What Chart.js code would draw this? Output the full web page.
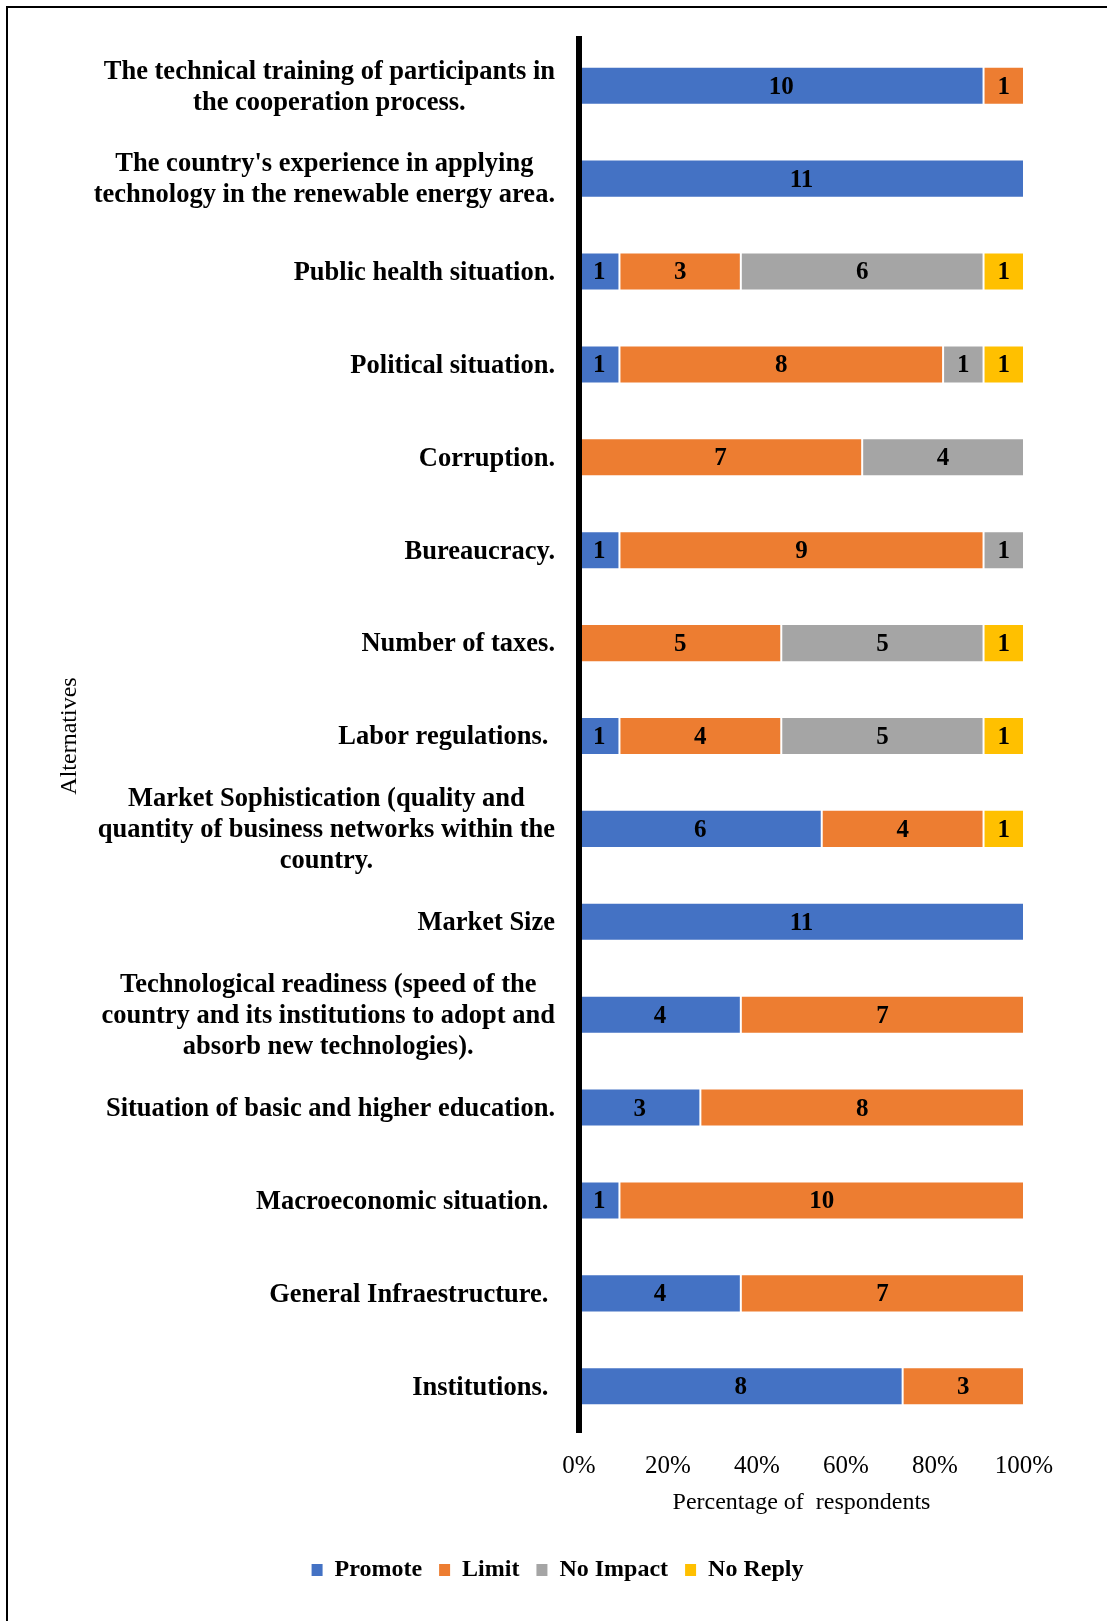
<!DOCTYPE html>
<html><head><meta charset="utf-8">
<script src="https://cdn.jsdelivr.net/npm/chart.js@4.4.0/dist/chart.umd.min.js"></script>
<style>
html,body{margin:0;padding:0;background:#fff;}
#wrap{position:relative;width:1107px;height:1621px;overflow:hidden;background:#fff;}
#frame{position:absolute;left:6px;top:6px;width:1200px;height:1700px;border-left:2px solid #000;border-top:2px solid #000;pointer-events:none;}
canvas{position:absolute;left:0;top:0;}
</style></head><body>
<div id="wrap"><canvas id="c" width="1107" height="1621"></canvas><div id="frame"></div></div>
<script>
const categories = [
  ["The technical training of participants in", "the cooperation process."],
  ["The country's experience in applying", "technology in the renewable energy area."],
  ["Public health situation."],
  ["Political situation."],
  ["Corruption."],
  ["Bureaucracy."],
  ["Number of taxes."],
  ["Labor regulations. "],
  ["Market Sophistication (quality and", "quantity of business networks within the", "country."],
  ["Market Size"],
  ["Technological readiness (speed of the", "country and its institutions to adopt and", "absorb new technologies)."],
  ["Situation of basic and higher education."],
  ["Macroeconomic situation. "],
  ["General Infraestructure. "],
  ["Institutions. "]
];
const seriesNames = ["Promote", "Limit", "No Impact", "No Reply"];
const promote  = [10, 11, 1, 1, 0, 1, 0, 1, 6, 11, 4, 3, 1, 4, 8];
const limit    = [1, 0, 3, 8, 7, 9, 5, 4, 4, 0, 7, 8, 10, 7, 3];
const noImpact = [0, 0, 6, 1, 4, 1, 5, 5, 0, 0, 0, 0, 0, 0, 0];
const noReply  = [0, 0, 1, 1, 0, 0, 1, 1, 1, 0, 0, 0, 0, 0, 0];
const xTicks = [0, 20, 40, 60, 80, 100];
const colors = ["#4472C4", "#ED7D31", "#A5A5A5", "#FFC000"];

const FONT = "'Liberation Serif', 'Times New Roman', serif";
const counts = [promote, limit, noImpact, noReply];
const totals = categories.map((_, i) => counts.reduce((s, a) => s + a[i], 0));

const datasets = counts.map((arr, k) => ({
  label: seriesNames[k],
  data: arr.map((v, i) => v / totals[i] * 100),
  counts: arr,
  backgroundColor: colors[k],
  borderColor: 'rgba(255,255,255,0.6)',
  borderWidth: 1,
  borderSkipped: false,
  barPercentage: 0.41,
  categoryPercentage: 1.0
}));

const labelPlugin = {
  id: 'customLabels',
  afterDatasetsDraw(chart) {
    const ctx = chart.ctx;
    ctx.save();
    // data labels
    ctx.font = "bold 25px " + FONT;
    ctx.fillStyle = '#000';
    ctx.textAlign = 'center';
    ctx.textBaseline = 'middle';
    chart.data.datasets.forEach((ds, di) => {
      const meta = chart.getDatasetMeta(di);
      meta.data.forEach((bar, i) => {
        const c = ds.counts[i];
        if (!c) return;
        const x = (bar.x + bar.base) / 2;
        ctx.fillText(String(c), x, bar.y + 1.5);
      });
    });
    // category labels
    const y = chart.scales.y;
    ctx.font = "bold 26.5px " + FONT;
    const rightEdge = 555;
    const lh = 31;
    categories.forEach((lines, i) => {
      const cy = y.getPixelForValue(i);
      const w = Math.max(...lines.map(l => ctx.measureText(l).width));
      const cx = rightEdge - w / 2;
      lines.forEach((l, j) => {
        ctx.fillText(l, cx, cy + (j - (lines.length - 1) / 2) * lh + 1.5);
      });
    });
    // y axis title
    ctx.font = "24px " + FONT;
    ctx.translate(70, (chart.chartArea.top + chart.chartArea.bottom) / 2);
    ctx.rotate(-Math.PI / 2);
    ctx.fillText("Alternatives", 0, 0);
    ctx.restore();
  }
};

new Chart(document.getElementById('c'), {
  type: 'bar',
  data: { labels: categories.map(l => l.join(' ')), datasets },
  options: {
    responsive: false,
    animation: false,
    devicePixelRatio: 1,
    indexAxis: 'y',
    layout: { padding: { top: 39.3, left: 91, right: 83, bottom: 29 } },
    plugins: {
      tooltip: { enabled: false },
      legend: {
        position: 'bottom',
        labels: {
          color: '#000',
          font: { family: FONT, size: 24, weight: 'bold' },
          boxWidth: 11,
          boxHeight: 12,
          padding: 17,
          generateLabels(chart) {
            return Chart.defaults.plugins.legend.labels.generateLabels(chart).map(it => Object.assign(it, { lineWidth: 0, strokeStyle: 'rgba(0,0,0,0)' }));
          }
        }
      }
    },
    scales: {
      x: {
        stacked: true,
        min: 0, max: 100,
        afterBuildTicks(scale) { scale.ticks = xTicks.map(v => ({ value: v })); },
        grid: { display: false, drawTicks: false },
        border: { display: false },
        ticks: {
          padding: 19,
          color: '#000',
          font: { family: FONT, size: 25 },
          callback: v => v + '%'
        },
        title: {
          display: true,
          text: 'Percentage of  respondents',
          color: '#000',
          font: { family: FONT, size: 24 },
          padding: { top: -12.1, bottom: 23.6 }
        }
      },
      y: {
        stacked: true,
        grid: { display: false, drawTicks: false },
        border: { display: true, color: '#000', width: 6, z: 1 },
        ticks: { display: false },
        afterFit(scale) { scale.width = 488; }
      }
    }
  },
  plugins: [labelPlugin]
});
</script>
</body></html>
